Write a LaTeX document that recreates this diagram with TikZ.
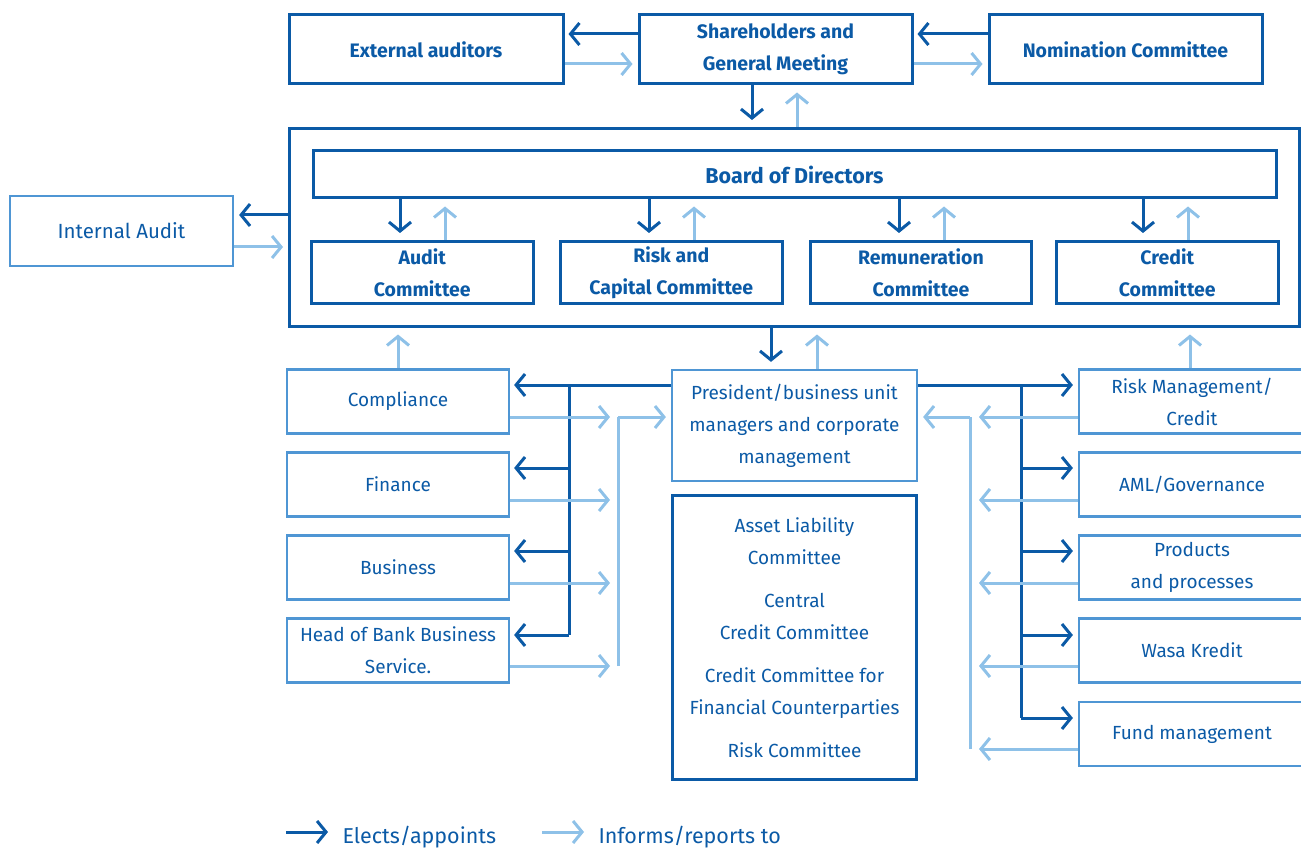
\documentclass[tikz,border=0pt]{standalone}
\usepackage{fontspec}
\setmainfont{Fira Sans}
\usetikzlibrary{arrows.meta}
\definecolor{darkblue}{HTML}{0B5AA6}
\definecolor{midblue}{HTML}{4F96D4}
\definecolor{lightblue}{HTML}{8EC1E8}
\tikzset{
  lbl/.style={font=\fontsize{19}{32}\selectfont, text=darkblue, align=center},
  darkbox/.style={lbl, draw=darkblue, line width=3pt, inner sep=0pt, font=\fontsize{19.5}{32}\selectfont\bfseries},
  darklist/.style={lbl, draw=darkblue, line width=3pt, inner sep=0pt},
  lightbox/.style={lbl, draw=midblue, line width=2.2pt, inner sep=0pt},
  elects/.style={darkblue, line width=3pt, -{Straight Barb[length=9pt,width=22pt]}},
  informs/.style={lightblue, line width=3pt, -{Straight Barb[length=9pt,width=22pt]}},
  darkline/.style={darkblue, line width=3pt},
  lightline/.style={lightblue, line width=3pt}
}
\begin{document}
\begin{tikzpicture}[x=1pt,y=-1pt]
\clip (0,0) rectangle (1301,850);
%top row
\node[darkbox, minimum width=274pt, minimum height=69pt] (extaud) at (426,49.5) {External auditors};
\node[darkbox, minimum width=273pt, minimum height=69pt] (share) at (775.5,49.5) {Shareholders and\\General Meeting};
\node[darkbox, minimum width=273pt, minimum height=69pt] (nomin) at (1125.5,49.5) {Nomination Committee};
%board
\node[darkbox, minimum width=1009.5pt, minimum height=197.5pt] (frame) at (794.25,227.25) {};
\node[darkbox, minimum width=963pt, minimum height=47pt, font=\fontsize{21.5}{32}\selectfont\bfseries] (bod) at (794.5,174.5) {Board of Directors};
\node[darkbox, minimum width=221.5pt, minimum height=62.5pt] (audit) at (422.25,272.75) {Audit\\Committee};
\node[darkbox, minimum width=221.5pt, minimum height=62.5pt] (riskcap) at (671.25,272.75) {Risk and\\Capital Committee};
\node[darkbox, minimum width=221.5pt, minimum height=62.5pt] (remun) at (921,272.75) {Remuneration\\Committee};
\node[darkbox, minimum width=221.5pt, minimum height=62.5pt] (credit) at (1167.25,272.75) {Credit\\Committee};
\node[lightbox, minimum width=223pt, minimum height=70pt, font=\fontsize{20.5}{32}\selectfont] (intaud) at (121.5,231) {Internal Audit};
%management
\node[lightbox, minimum width=245pt, minimum height=111pt] (pres) at (794.5,425.5) {President/business unit\\managers and corporate\\management};
\node[darklist, minimum width=244pt, minimum height=284pt] (comms) at (794.5,637.5) {Asset Liability\\Committee\\[11pt]Central\\Credit Committee\\[11pt]Credit Committee for\\Financial Counterparties\\[11pt]Risk Committee};
%left column
\node[lightbox, minimum width=222pt, minimum height=64pt] (compl) at (398,401.5) {Compliance};
\node[lightbox, minimum width=222pt, minimum height=64pt] (fin) at (398,484.5) {Finance};
\node[lightbox, minimum width=222pt, minimum height=64pt] (bus) at (398,567.5) {Business};
\node[lightbox, minimum width=222pt, minimum height=64pt] (head) at (398,650.5) {Head of Bank Business\\Service.};
%right column
\node[lightbox, minimum width=226pt, minimum height=64pt] (riskm) at (1192,401.5) {Risk Management/\\Credit};
\node[lightbox, minimum width=226pt, minimum height=64pt] (aml) at (1192,484.5) {AML/Governance};
\node[lightbox, minimum width=226pt, minimum height=64pt] (prod) at (1192,567.5) {Products\\and processes};
\node[lightbox, minimum width=226pt, minimum height=64pt] (wasa) at (1192,650.5) {Wasa Kredit};
\node[lightbox, minimum width=226pt, minimum height=64pt] (fund) at (1192,734) {Fund management};
%top arrows
\draw[elects, shorten >=4pt] (share.west |- 0,34) -- (extaud.east |- 0,34);
\draw[informs, shorten >=5pt] (extaud.east |- 0,64) -- (share.west |- 0,64);
\draw[elects, shorten >=4pt] (nomin.west |- 0,34) -- (share.east |- 0,34);
\draw[informs, shorten >=5pt] (share.east |- 0,64) -- (nomin.west |- 0,64);
\draw[elects, shorten >=7pt] (share.south -| 752,0) -- (frame.north -| 752,0);
\draw[informs, shorten >=7pt] (frame.north -| 797,0) -- (share.south -| 797,0);
\foreach \c/\x in {audit/400, riskcap/649, remun/899, credit/1143} {
  \draw[elects, shorten >=7pt] (bod.south -| \x,0) -- (\c.north -| \x,0);
  \draw[informs, shorten >=7pt] (\c.north -| \x+45,0) -- (bod.south -| \x+45,0);
}
\draw[elects, shorten >=5pt] (frame.west |- 0,215) -- (intaud.east |- 0,215);
\draw[informs, shorten >=5pt] (intaud.east |- 0,247) -- (frame.west |- 0,247);
%below board
\draw[informs, shorten >=7pt] (compl.north) -- (frame.south -| compl.north);
\draw[elects, shorten >=7pt] (frame.south -| 771,0) -- (pres.north -| 771,0);
\draw[informs, shorten >=7pt] (pres.north -| 817,0) -- (frame.south -| 817,0);
\draw[informs, shorten >=7pt] (riskm.north -| 1190,0) -- (frame.south -| 1190,0);
%left side
\coordinate (lbus) at (569,385);
\coordinate (lret) at (618,417);
\draw[darkline] (pres.west |- lbus) -- (lbus) -- (569,635);
\foreach \b/\y in {compl/385, fin/468, bus/551, head/635}
  \draw[elects, shorten >=4pt] (569,\y) -- (\b.east |- 0,\y);
\foreach \b/\y in {compl/417, fin/500, bus/583, head/666}
  \draw[informs] (\b.east |- 0,\y) -- (610,\y);
\draw[lightline] (618,666) -- (lret);
\draw[informs, shorten >=5pt] (lret) -- (pres.west |- lret);
%right side
\coordinate (rbus) at (1021,385);
\coordinate (rret) at (970,417);
\draw[darkline] (pres.east |- rbus) -- (rbus) -- (1021,718);
\foreach \b/\y in {riskm/385, aml/468, prod/551, wasa/635, fund/718}
  \draw[elects, shorten >=5pt] (1021,\y) -- (\b.west |- 0,\y);
\foreach \b/\y in {riskm/417, aml/500, prod/583, wasa/666, fund/749}
  \draw[informs] (\b.west |- 0,\y) -- (979,\y);
\draw[lightline] (970,749) -- (rret);
\draw[informs, shorten >=5pt] (rret) -- (pres.east |- rret);
%legend
\node[lbl, anchor=west, font=\fontsize{21.5}{32}\selectfont] (legel) at (339,837) {Elects/appoints};
\node[lbl, anchor=west, font=\fontsize{21.5}{32}\selectfont] (leginf) at (595,837) {Informs/reports to};
\draw[elects] (286,832) -- ([xshift=-11pt]legel.west |- 0,832);
\draw[informs] (542,832) -- ([xshift=-11pt]leginf.west |- 0,832);
\end{tikzpicture}
\end{document}
